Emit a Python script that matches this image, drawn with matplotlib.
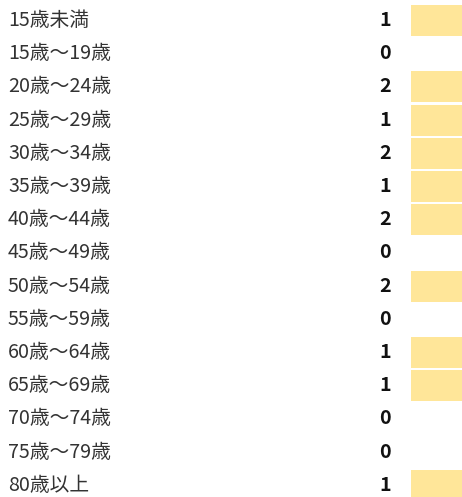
import matplotlib
matplotlib.use("Agg")
import matplotlib.pyplot as plt
import matplotlib.transforms as mtransforms

plt.rcParams['font.family'] = ['Noto Sans CJK JP', 'DejaVu Sans']

age_groups = ["15歳未満", "15歳～19歳", "20歳～24歳", "25歳～29歳", "30歳～34歳",
              "35歳～39歳", "40歳～44歳", "45歳～49歳", "50歳～54歳", "55歳～59歳",
              "60歳～64歳", "65歳～69歳", "70歳～74歳", "75歳～79歳", "80歳以上"]
counts = [1, 0, 2, 1, 2, 1, 2, 0, 2, 0, 1, 1, 0, 0, 1]

W, H = 462, 497
fig = plt.figure(figsize=(W / 100, H / 100), dpi=100)

# rows: centre of first at 20px, pitch ~33.2px (last row runs off the bottom)
pitch = 33.2
top = 20.5 - pitch / 2
bottom = top + pitch * len(age_groups)
bar_left = 411
ax = fig.add_axes([bar_left / W, 1 - bottom / H, 1 - bar_left / W, (bottom - top) / H])
ax.set_xlim(0, 0.5)  # screenshot is cropped: every bar runs past the right edge
ax.set_ylim(len(age_groups) - 0.5, -0.5)
ax.axis('off')

ypos = list(range(len(age_groups)))
ax.barh(ypos, counts, height=0.93, color='#FFE699', left=0)

trans = mtransforms.blended_transform_factory(fig.transFigure, ax.transData)
for i, (lab, c) in enumerate(zip(age_groups, counts)):
    ax.text(8 / W, i, lab, transform=trans, ha='left', va='center',
            fontsize=14.2, color='#333333', clip_on=False)
    ax.text(385 / W, i, str(c), transform=trans, ha='center', va='center',
            fontsize=14.2, fontweight='bold', color='#111111', clip_on=False)

fig.savefig("out.png", dpi=100)
